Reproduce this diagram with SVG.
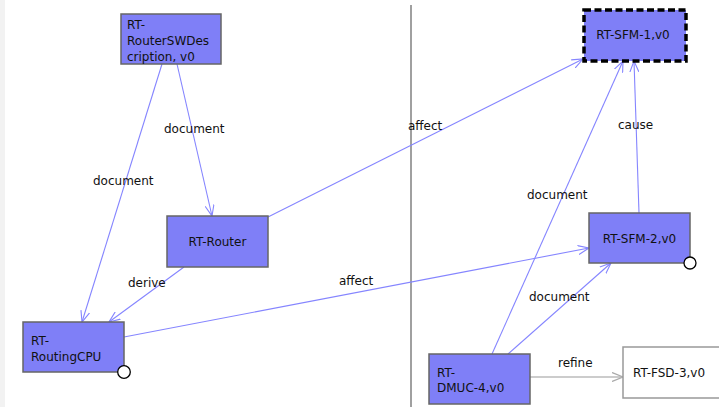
<svg xmlns="http://www.w3.org/2000/svg" width="719" height="407" viewBox="0 0 719 407">
  <style>
    .node { fill: #7f7ff7; stroke: #666; stroke-width: 1.5; }
    .plain { fill: #fff; stroke: #999; stroke-width: 1.5; }
    .focus { fill: #7f7ff7; stroke: #000; stroke-width: 3.5; stroke-dasharray: 7 3.5; }
    .port { fill: #fff; stroke: #000; stroke-width: 1.3; }
    text { font-family: "DejaVu Sans", Verdana, sans-serif; font-size: 12px; fill: #111; }
    .c { text-anchor: middle; }
    .edge { fill: none; stroke: #8585ff; stroke-width: 1.1; marker-end: url(#arrow); }
    .edge-gray { fill: none; stroke: #bbb; stroke-width: 1.3; marker-end: url(#arrowGray); }
  </style>
  <defs>
    <marker id="arrow" viewBox="0 0 12 10" refX="11" refY="5" markerWidth="12" markerHeight="10" markerUnits="userSpaceOnUse" orient="auto">
      <path d="M0,0.5 L11,5 L0,9.5" fill="none" stroke="#8585ff" stroke-width="1.1"/>
    </marker>
    <marker id="arrowGray" viewBox="0 0 12 10" refX="11" refY="5" markerWidth="12" markerHeight="10" markerUnits="userSpaceOnUse" orient="auto">
      <path d="M0,0.5 L11,5 L0,9.5" fill="none" stroke="#aaa" stroke-width="1.3"/>
    </marker>
  </defs>

  <rect x="0" y="0" width="719" height="407" fill="#fff"/>
  <rect x="0" y="0" width="5" height="407" fill="#f2f2f2"/>

  <!-- swimlane divider -->
  <line x1="411" y1="5" x2="411" y2="407" stroke="#a0a0a0" stroke-width="2"/>

  <g id="connectors">
    <line class="edge" x1="162" y1="64" x2="82" y2="322"/>
    <line class="edge" x1="177" y1="64" x2="212" y2="216"/>
    <line class="edge" x1="184" y1="267" x2="109" y2="322"/>
    <line class="edge" x1="268" y1="217" x2="583" y2="59"/>
    <line class="edge" x1="124" y1="337" x2="589" y2="248"/>
    <line class="edge" x1="492" y1="354" x2="623" y2="61"/>
    <line class="edge" x1="508" y1="354" x2="611" y2="263"/>
    <line class="edge" x1="639" y1="213" x2="634" y2="61"/>
    <line class="edge-gray" x1="530" y1="377" x2="623" y2="377"/>

    <text x="93" y="185">document</text>
    <text x="164" y="133">document</text>
    <text x="128" y="287">derive</text>
    <text x="408" y="130">affect</text>
    <text x="339" y="285">affect</text>
    <text x="618" y="129">cause</text>
    <text x="527" y="199">document</text>
    <text x="529" y="301">document</text>
    <text x="558" y="367">refine</text>
  </g>

  <g id="rt-routerswdescription">
    <rect class="node" x="121" y="14" width="100" height="50"/>
    <text x="127" y="29">RT-</text>
    <text x="127" y="45">RouterSWDes</text>
    <text x="127" y="61">cription, v0</text>
  </g>

  <g id="rt-router">
    <rect class="node" x="167" y="216" width="101" height="51"/>
    <text class="c" x="217.5" y="246">RT-Router</text>
  </g>

  <g id="rt-routingcpu">
    <rect class="node" x="23" y="322" width="101" height="50"/>
    <text x="31" y="345">RT-</text>
    <text x="31" y="361">RoutingCPU</text>
    <circle class="port" cx="124" cy="372" r="6.3"/>
  </g>

  <g id="rt-sfm-1">
    <rect class="focus" x="584" y="10" width="102" height="51"/>
    <text class="c" x="633" y="39">RT-SFM-1,v0</text>
  </g>

  <g id="rt-sfm-2">
    <rect class="node" x="589" y="213" width="101" height="50"/>
    <text class="c" x="639.5" y="243">RT-SFM-2,v0</text>
    <circle class="port" cx="690" cy="263" r="6"/>
  </g>

  <g id="rt-dmuc-4">
    <rect class="node" x="429" y="354" width="101" height="50"/>
    <text x="437" y="377">RT-</text>
    <text x="437" y="392">DMUC-4,v0</text>
  </g>

  <g id="rt-fsd-3">
    <rect class="plain" x="623" y="347" width="101" height="51"/>
    <text x="633" y="377">RT-FSD-3,v0</text>
  </g>
</svg>
